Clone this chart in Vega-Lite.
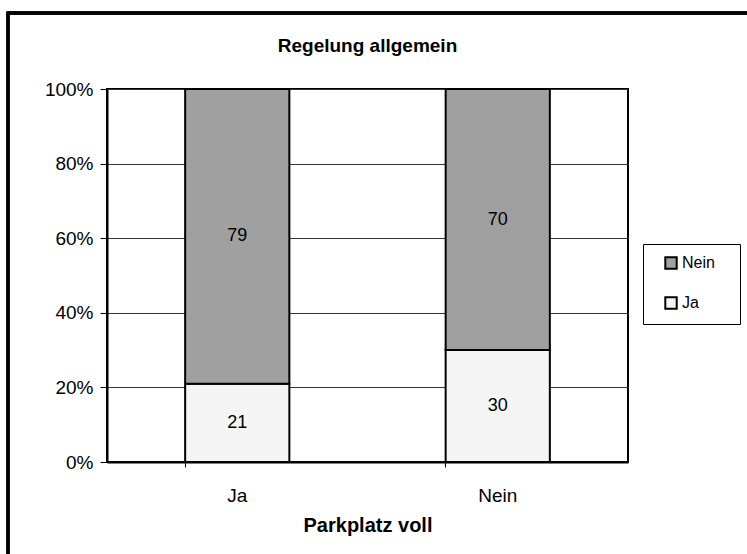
{
  "$schema": "https://vega.github.io/schema/vega-lite/v6.json",
  "autosize": "none",
  "width": 521,
  "height": 373,
  "padding": {"left": 107, "top": 89, "right": 119, "bottom": 92},
  "background": "white",
  "config": {
    "font": "Liberation Sans",
    "view": {"stroke": "black", "strokeWidth": 2},
    "axis": {"labelFont": "Liberation Sans", "titleFont": "Liberation Sans", "labelColor": "black", "titleColor": "black"}
  },
  "title": {"text": "Regelung allgemein", "fontSize": 19, "fontWeight": "bold", "font": "Liberation Sans", "color": "black", "anchor": "middle", "offset": 0, "dy": 44},
  "data": {"values": [
    {"Parkplatz voll": "Ja", "Regelung": "Ja", "Anteil": 21},
    {"Parkplatz voll": "Ja", "Regelung": "Nein", "Anteil": 79},
    {"Parkplatz voll": "Nein", "Regelung": "Ja", "Anteil": 30},
    {"Parkplatz voll": "Nein", "Regelung": "Nein", "Anteil": 70}
  ]},
  "encoding": {
    "x": {"field": "Parkplatz voll", "type": "nominal", "sort": ["Ja", "Nein"],
      "scale": {"paddingInner": 0.6, "paddingOuter": 0.3},
      "axis": {"title": "Parkplatz voll", "titleFontSize": 20, "titleFontWeight": "bold", "titlePadding": 10, "labelAngle": 0, "labelFontSize": 19, "labelPadding": 19, "domain": true, "domainColor": "black", "domainWidth": 2, "ticks": true, "tickColor": "black", "tickSize": 5, "bandPosition": 0, "grid": false}},
    "y": {"field": "Anteil", "type": "quantitative", "stack": "normalize",
      "axis": {"title": null, "format": ".0%", "values": [0, 0.2, 0.4, 0.6, 0.8, 1], "labelFontSize": 19, "labelPadding": 7, "tickSize": 7, "tickColor": "black", "domainColor": "black", "domainWidth": 2, "grid": true, "gridColor": "#333333", "gridWidth": 1}},
    "order": {"field": "Regelung", "sort": "ascending"}
  },
  "layer": [
    {
      "mark": {"type": "rect", "fill": null, "stroke": "black", "strokeWidth": 3, "clip": false},
      "encoding": {
        "x": {"value": -99},
        "x2": {"value": 700},
        "y": {"value": -76},
        "y2": {"value": 520}
      }
    },
    {
      "mark": {"type": "bar", "stroke": "black", "strokeWidth": 2},
      "encoding": {
        "color": {"field": "Regelung", "type": "nominal",
          "scale": {"domain": ["Nein", "Ja"], "range": ["#A0A0A0", "#F5F5F5"]},
          "legend": {"title": "x", "titleOrient": "right", "titleOpacity": 0, "titleFontSize": 10, "titlePadding": 8,
            "orient": "none", "legendX": 536, "legendY": 155, "direction": "vertical",
            "strokeColor": "black", "padding": 11, "symbolOffset": 9, "symbolType": "square", "symbolSize": 130,
            "symbolStrokeColor": "black", "symbolStrokeWidth": 2, "symbolOpacity": 1,
            "labelFontSize": 16, "labelFont": "Liberation Sans", "labelColor": "black", "labelOffset": 3, "rowPadding": 20}}
      }
    },
    {
      "mark": {"type": "text", "fontSize": 18, "font": "Liberation Sans", "color": "black"},
      "encoding": {
        "y": {"field": "Anteil", "type": "quantitative", "stack": "normalize", "bandPosition": 0.5},
        "text": {"field": "Anteil", "type": "quantitative"}
      }
    }
  ]
}
